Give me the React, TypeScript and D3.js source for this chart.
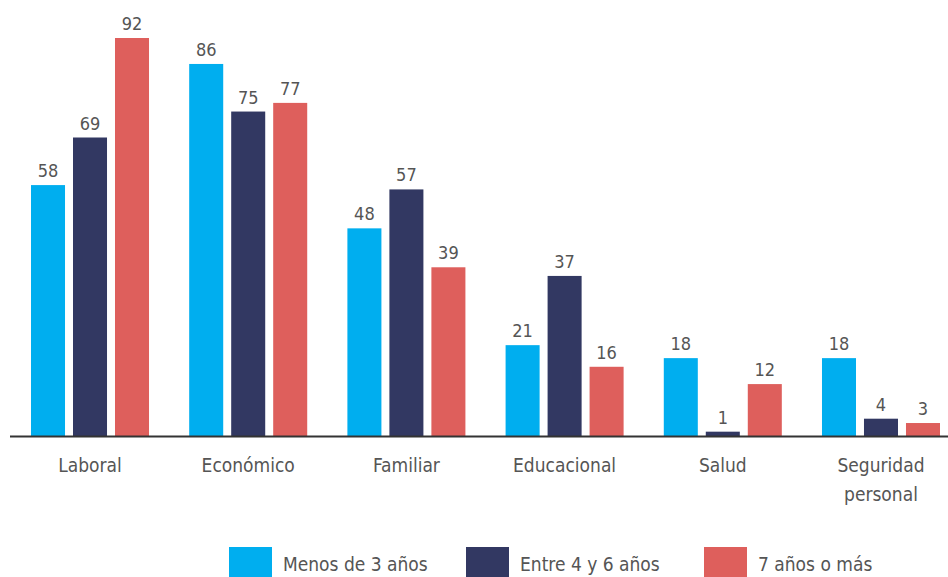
import React from 'react';
import * as d3 from 'd3';

const categories = ['Laboral', 'Económico', 'Familiar', 'Educacional', 'Salud', 'Seguridad personal'];
const series = ['Menos de 3 años', 'Entre 4 y 6 años', '7 años o más'];
const menos3 = [58, 86, 48, 21, 18, 18];
const entre4y6 = [69, 75, 57, 37, 1, 4];
const siete = [92, 77, 39, 16, 12, 3];
const colors = ['#00AEEF', '#323862', '#DE5F5C'];

const W = 948;
const H = 577;
const font = '"DejaVu Sans Condensed", "DejaVu Sans", sans-serif';

export default function App() {
  const values = [menos3, entre4y6, siete];
  const baseY = 436;

  const x0 = d3.scaleBand().domain(categories).range([31, 940]).paddingInner(0.254).paddingOuter(0);
  const x1 = d3.scaleBand().domain(series).range([0, x0.bandwidth()]).paddingInner(0.19);
  const y = d3.scaleLinear().domain([0, 92]).range([baseY, 38]);

  const legendX = [229, 466, 704];

  return (
    <svg width={W} height={H} style={{ position: 'absolute', left: 0, top: 0, background: '#fff' }}>
      {categories.map((c, ci) => (
        <g key={c} transform={`translate(${x0(c)},0)`}>
          {series.map((s, si) => {
            const v = values[si][ci];
            const bx = x1(s) as number;
            return (
              <g key={s}>
                <rect x={bx} y={y(v)} width={x1.bandwidth()} height={baseY - y(v)} fill={colors[si]} />
                <text x={bx + x1.bandwidth() / 2} y={y(v) - 8} textAnchor="middle"
                  fontFamily={font} fontStretch="condensed" fontSize={18} fill="#555">{v}</text>
              </g>
            );
          })}
          {c.split(' ').map((w, li) => (
            <text key={w} x={x0.bandwidth() / 2} y={472 + li * 29} textAnchor="middle"
              fontFamily={font} fontStretch="condensed" fontSize={19} fill="#555">{w}</text>
          ))}
        </g>
      ))}
      <line x1={10} x2={W} y1={baseY + 0.5} y2={baseY + 0.5} stroke="#333" strokeWidth={2} />
      {series.map((s, si) => (
        <g key={s} transform={`translate(${legendX[si]},547)`}>
          <rect width={43} height={30} fill={colors[si]} />
          <text x={54} y={24} fontFamily={font} fontStretch="condensed" fontSize={19} fill="#555">{s}</text>
        </g>
      ))}
    </svg>
  );
}
